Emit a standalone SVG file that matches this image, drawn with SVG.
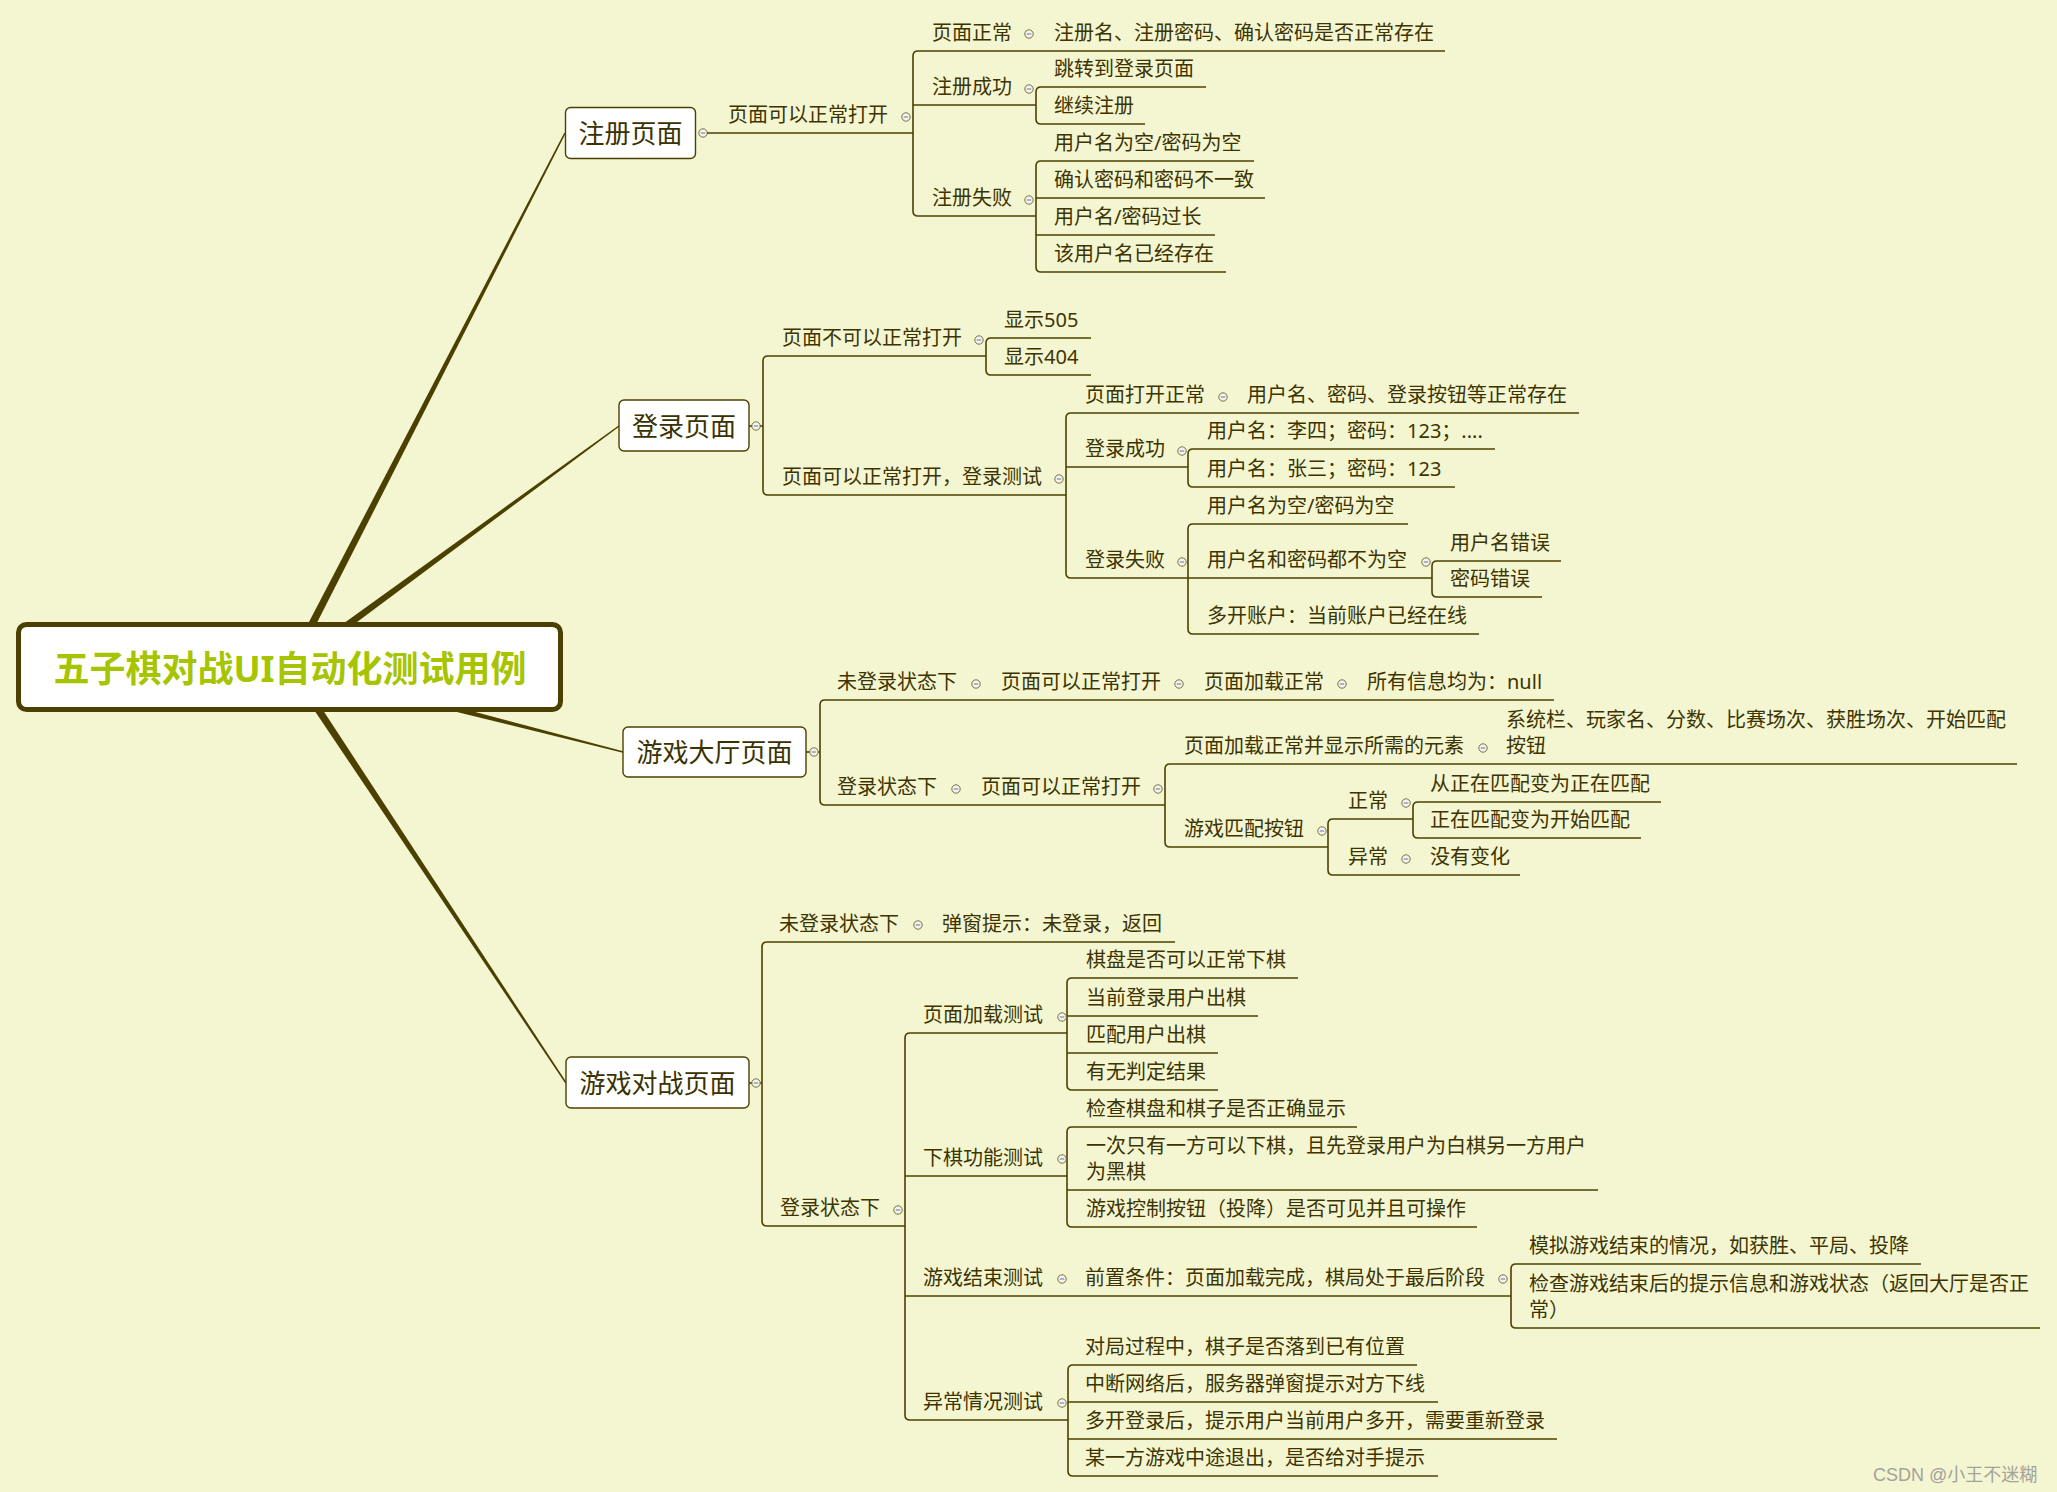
<svg xmlns="http://www.w3.org/2000/svg" xmlns:xlink="http://www.w3.org/1999/xlink" width="2057" height="1492" viewBox="0 0 2057 1492">
<style>
.t{font-family:"Noto Sans","Noto Sans CJK SC",sans-serif;font-size:20px;fill:#3d3400}
.mt{font-family:"Noto Sans","Noto Sans CJK SC",sans-serif;font-size:26px;fill:#3a3100;text-anchor:middle}
.ct{font-family:"Noto Sans","Noto Sans CJK SC",sans-serif;font-size:36px;font-weight:bold;fill:#a6c400;text-anchor:middle}
.ln{fill:none;stroke:#4b4000;stroke-width:1.6}
.box{fill:#ffffff;stroke:#4b4000;stroke-width:1.4}
.tp{fill:#4b4000}
.wm{font-family:"Liberation Sans","Noto Sans CJK SC",sans-serif;font-size:18px;fill:#a3a39a}
</style>
<defs>
<g id="cc"><circle r="4.2" fill="#f4f4ea" stroke="#7a7040" stroke-width="1"/><line x1="-2.2" y1="0" x2="2.2" y2="0" stroke="#7888b8" stroke-width="1.2"/></g>
</defs>
<rect x="0" y="0" width="2057" height="1492" fill="#f4f6d2"/>

<g id="connectors">
<polygon class="tp" points="293.6,668.8 565.7,133.3 564.3,132.7 286.4,665.2"/>
<polygon class="tp" points="292.4,670.2 619.4,426.6 618.6,425.4 287.6,663.8"/>
<polygon class="tp" points="289.0,670.9 622.8,752.7 623.2,751.3 291.0,663.1"/>
<polygon class="tp" points="286.7,669.2 565.4,1083.4 566.6,1082.6 293.3,664.8"/>
<path class="ln" d="M918 51 Q913 51 913 56 V211 Q913 216 918 216"/>
<path class="ln" d="M1041 87 Q1036 87 1036 92 V119 Q1036 124 1041 124"/>
<path class="ln" d="M1041 161 Q1036 161 1036 166 V267 Q1036 272 1041 272"/>
<path class="ln" d="M749 426 H763"/>
<path class="ln" d="M768 356 Q763 356 763 361 V490 Q763 495 768 495"/>
<path class="ln" d="M991 338 Q986 338 986 343 V370 Q986 375 991 375"/>
<path class="ln" d="M1071 413 Q1066 413 1066 418 V573 Q1066 578 1071 578"/>
<path class="ln" d="M1193 449 Q1188 449 1188 454 V482 Q1188 487 1193 487"/>
<path class="ln" d="M1193 524 Q1188 524 1188 529 V629 Q1188 634 1193 634"/>
<path class="ln" d="M1437 561 Q1432 561 1432 566 V592 Q1432 597 1437 597"/>
<path class="ln" d="M806 752 H820"/>
<path class="ln" d="M825 700 Q820 700 820 705 V800 Q820 805 825 805"/>
<path class="ln" d="M1170 764 Q1165 764 1165 769 V842 Q1165 847 1170 847"/>
<path class="ln" d="M1333 819 Q1328 819 1328 824 V870 Q1328 875 1333 875"/>
<path class="ln" d="M1418 802 Q1413 802 1413 807 V833 Q1413 838 1418 838"/>
<path class="ln" d="M749 1083 H762"/>
<path class="ln" d="M767 942 Q762 942 762 947 V1221 Q762 1226 767 1226"/>
<path class="ln" d="M910 1033 Q905 1033 905 1038 V1415 Q905 1420 910 1420"/>
<path class="ln" d="M1072 978 Q1067 978 1067 983 V1085 Q1067 1090 1072 1090"/>
<path class="ln" d="M1072 1127 Q1067 1127 1067 1132 V1222 Q1067 1227 1072 1227"/>
<path class="ln" d="M1516 1264 Q1511 1264 1511 1269 V1323 Q1511 1328 1516 1328"/>
<path class="ln" d="M1073 1365 Q1068 1365 1068 1370 V1471 Q1068 1476 1073 1476"/>
</g>

<g id="root">
<rect x="18.5" y="624.5" width="542" height="85" rx="8" fill="#ffffff" stroke="#4b4000" stroke-width="5"/>
<text class="ct" x="290" y="682">五子棋对战UI自动化测试用例</text>
</g>

<!-- 注册页面 -->
<g id="n-reg">
<rect class="box" x="565.5" y="107.5" width="130" height="51" rx="5"/>
<text class="mt" x="630.5" y="143">注册页面</text>
<use xlink:href="#cc" x="703" y="133"/>
</g>
<g id="n-reg-open">
<path class="ln" d="M707 133 H913"/>
<text class="t" x="728" y="122">页面可以正常打开</text>
<use xlink:href="#cc" x="906" y="117"/>
</g>
<g id="n-reg-normal">
<path class="ln" d="M918 51 H1445"/>
<text class="t" x="932" y="40">页面正常</text>
<use xlink:href="#cc" x="1029" y="34"/>
<text class="t" x="1054" y="40">注册名、注册密码、确认密码是否正常存在</text>
</g>
<g id="n-reg-ok">
<path class="ln" d="M913 105 H1036"/>
<text class="t" x="932" y="94">注册成功</text>
<use xlink:href="#cc" x="1029" y="89"/>
</g>
<g id="n-reg-ok-1"><path class="ln" d="M1041 87 H1206"/><text class="t" x="1054" y="76">跳转到登录页面</text></g>
<g id="n-reg-ok-2"><path class="ln" d="M1041 124 H1145"/><text class="t" x="1054" y="113">继续注册</text></g>
<g id="n-reg-fail">
<path class="ln" d="M918 216 H1036"/>
<text class="t" x="932" y="205">注册失败</text>
<use xlink:href="#cc" x="1029" y="200"/>
</g>
<g id="n-reg-fail-1"><path class="ln" d="M1041 161 H1254"/><text class="t" x="1054" y="150">用户名为空/密码为空</text></g>
<g id="n-reg-fail-2"><path class="ln" d="M1036 198 H1265"/><text class="t" x="1054" y="187">确认密码和密码不一致</text></g>
<g id="n-reg-fail-3"><path class="ln" d="M1036 235 H1215"/><text class="t" x="1054" y="224">用户名/密码过长</text></g>
<g id="n-reg-fail-4"><path class="ln" d="M1041 272 H1226"/><text class="t" x="1054" y="261">该用户名已经存在</text></g>

<!-- 登录页面 -->
<g id="n-login">
<rect class="box" x="619" y="400" width="130" height="51" rx="5"/>
<text class="mt" x="684" y="435.5">登录页面</text>
<use xlink:href="#cc" x="756" y="426"/>
</g>
<g id="n-login-no">
<path class="ln" d="M768 356 H986"/>
<text class="t" x="782" y="345">页面不可以正常打开</text>
<use xlink:href="#cc" x="979" y="340"/>
</g>
<g id="n-login-505"><path class="ln" d="M991 338 H1091"/><text class="t" x="1004" y="327">显示505</text></g>
<g id="n-login-404"><path class="ln" d="M991 375 H1091"/><text class="t" x="1004" y="364">显示404</text></g>
<g id="n-login-yes">
<path class="ln" d="M768 495 H1066"/>
<text class="t" x="782" y="484">页面可以正常打开，登录测试</text>
<use xlink:href="#cc" x="1059" y="479"/>
</g>
<g id="n-login-normal">
<path class="ln" d="M1071 413 H1579"/>
<text class="t" x="1085" y="402">页面打开正常</text>
<use xlink:href="#cc" x="1223" y="397"/>
<text class="t" x="1247" y="402">用户名、密码、登录按钮等正常存在</text>
</g>
<g id="n-login-ok">
<path class="ln" d="M1066 467 H1188"/>
<text class="t" x="1085" y="456">登录成功</text>
<use xlink:href="#cc" x="1182" y="451"/>
</g>
<g id="n-login-ok-1"><path class="ln" d="M1193 449 H1495"/><text class="t" x="1207" y="438">用户名：李四；密码：123；....</text></g>
<g id="n-login-ok-2"><path class="ln" d="M1193 487 H1455"/><text class="t" x="1207" y="476">用户名：张三；密码：123</text></g>
<g id="n-login-fail">
<path class="ln" d="M1071 578 H1188"/>
<text class="t" x="1085" y="567">登录失败</text>
<use xlink:href="#cc" x="1182" y="562"/>
</g>
<g id="n-login-fail-1"><path class="ln" d="M1193 524 H1408"/><text class="t" x="1207" y="513">用户名为空/密码为空</text></g>
<g id="n-login-fail-2">
<path class="ln" d="M1188 578 H1432"/>
<text class="t" x="1207" y="567">用户名和密码都不为空</text>
<use xlink:href="#cc" x="1426" y="562"/>
</g>
<g id="n-login-fail-2a"><path class="ln" d="M1437 561 H1561"/><text class="t" x="1450" y="550">用户名错误</text></g>
<g id="n-login-fail-2b"><path class="ln" d="M1437 597 H1542"/><text class="t" x="1450" y="586">密码错误</text></g>
<g id="n-login-fail-3"><path class="ln" d="M1193 634 H1479"/><text class="t" x="1207" y="623">多开账户：当前账户已经在线</text></g>

<!-- 游戏大厅页面 -->
<g id="n-hall">
<rect class="box" x="623" y="727" width="183" height="50" rx="5"/>
<text class="mt" x="714.5" y="762">游戏大厅页面</text>
<use xlink:href="#cc" x="814" y="752"/>
</g>
<g id="n-hall-nologin">
<path class="ln" d="M825 700 H1554"/>
<text class="t" x="837" y="689">未登录状态下</text>
<use xlink:href="#cc" x="976" y="684"/>
<text class="t" x="1001" y="689">页面可以正常打开</text>
<use xlink:href="#cc" x="1179" y="684"/>
<text class="t" x="1204" y="689">页面加载正常</text>
<use xlink:href="#cc" x="1342" y="684"/>
<text class="t" x="1367" y="689">所有信息均为：null</text>
</g>
<g id="n-hall-login">
<path class="ln" d="M825 805 H1165"/>
<text class="t" x="837" y="794">登录状态下</text>
<use xlink:href="#cc" x="956" y="789"/>
<text class="t" x="981" y="794">页面可以正常打开</text>
<use xlink:href="#cc" x="1158" y="789"/>
</g>
<g id="n-hall-elements">
<path class="ln" d="M1170 764 H2017"/>
<text class="t" x="1184" y="753">页面加载正常并显示所需的元素</text>
<use xlink:href="#cc" x="1483" y="748"/>
<text class="t" x="1506" y="727">系统栏、玩家名、分数、比赛场次、获胜场次、开始匹配</text>
<text class="t" x="1506" y="753">按钮</text>
</g>
<g id="n-hall-match">
<path class="ln" d="M1170 847 H1328"/>
<text class="t" x="1184" y="836">游戏匹配按钮</text>
<use xlink:href="#cc" x="1322" y="831"/>
</g>
<g id="n-hall-match-ok">
<path class="ln" d="M1333 819 H1413"/>
<text class="t" x="1348" y="808">正常</text>
<use xlink:href="#cc" x="1406" y="803"/>
</g>
<g id="n-hall-match-ok-1"><path class="ln" d="M1418 802 H1661"/><text class="t" x="1430" y="791">从正在匹配变为正在匹配</text></g>
<g id="n-hall-match-ok-2"><path class="ln" d="M1418 838 H1641"/><text class="t" x="1430" y="827">正在匹配变为开始匹配</text></g>
<g id="n-hall-match-err">
<path class="ln" d="M1333 875 H1520"/>
<text class="t" x="1348" y="864">异常</text>
<use xlink:href="#cc" x="1406" y="859"/>
<text class="t" x="1430" y="864">没有变化</text>
</g>

<!-- 游戏对战页面 -->
<g id="n-battle">
<rect class="box" x="566" y="1057" width="183" height="51" rx="5"/>
<text class="mt" x="657.5" y="1093">游戏对战页面</text>
<use xlink:href="#cc" x="756" y="1083"/>
</g>
<g id="n-battle-nologin">
<path class="ln" d="M767 942 H1175"/>
<text class="t" x="779" y="931">未登录状态下</text>
<use xlink:href="#cc" x="918" y="925"/>
<text class="t" x="942" y="931">弹窗提示：未登录，返回</text>
</g>
<g id="n-battle-login">
<path class="ln" d="M767 1226 H905"/>
<text class="t" x="780" y="1215">登录状态下</text>
<use xlink:href="#cc" x="898" y="1210"/>
</g>
<g id="n-battle-load">
<path class="ln" d="M910 1033 H1067"/>
<text class="t" x="923" y="1022">页面加载测试</text>
<use xlink:href="#cc" x="1062" y="1017"/>
</g>
<g id="n-battle-load-1"><path class="ln" d="M1072 978 H1298"/><text class="t" x="1086" y="967">棋盘是否可以正常下棋</text></g>
<g id="n-battle-load-2"><path class="ln" d="M1067 1016 H1258"/><text class="t" x="1086" y="1005">当前登录用户出棋</text></g>
<g id="n-battle-load-3"><path class="ln" d="M1067 1053 H1218"/><text class="t" x="1086" y="1042">匹配用户出棋</text></g>
<g id="n-battle-load-4"><path class="ln" d="M1072 1090 H1218"/><text class="t" x="1086" y="1079">有无判定结果</text></g>
<g id="n-battle-play">
<path class="ln" d="M905 1176 H1067"/>
<text class="t" x="923" y="1165">下棋功能测试</text>
<use xlink:href="#cc" x="1062" y="1159"/>
</g>
<g id="n-battle-play-1"><path class="ln" d="M1072 1127 H1357"/><text class="t" x="1086" y="1116">检查棋盘和棋子是否正确显示</text></g>
<g id="n-battle-play-2"><path class="ln" d="M1067 1190 H1598"/><text class="t" x="1086" y="1153">一次只有一方可以下棋，且先登录用户为白棋另一方用户</text><text class="t" x="1086" y="1179">为黑棋</text></g>
<g id="n-battle-play-3"><path class="ln" d="M1072 1227 H1477"/><text class="t" x="1086" y="1216">游戏控制按钮（投降）是否可见并且可操作</text></g>
<g id="n-battle-end">
<path class="ln" d="M905 1296 H1511"/>
<text class="t" x="923" y="1285">游戏结束测试</text>
<use xlink:href="#cc" x="1062" y="1279"/>
<text class="t" x="1085" y="1285">前置条件：页面加载完成，棋局处于最后阶段</text>
<use xlink:href="#cc" x="1503" y="1279"/>
</g>
<g id="n-battle-end-1"><path class="ln" d="M1516 1264 H1921"/><text class="t" x="1529" y="1253">模拟游戏结束的情况，如获胜、平局、投降</text></g>
<g id="n-battle-end-2"><path class="ln" d="M1516 1328 H2040"/><text class="t" x="1529" y="1291">检查游戏结束后的提示信息和游戏状态（返回大厅是否正</text><text class="t" x="1529" y="1317">常）</text></g>
<g id="n-battle-err">
<path class="ln" d="M910 1420 H1068"/>
<text class="t" x="923" y="1409">异常情况测试</text>
<use xlink:href="#cc" x="1062" y="1403"/>
</g>
<g id="n-battle-err-1"><path class="ln" d="M1073 1365 H1417"/><text class="t" x="1085" y="1354">对局过程中，棋子是否落到已有位置</text></g>
<g id="n-battle-err-2"><path class="ln" d="M1068 1402 H1438"/><text class="t" x="1085" y="1391">中断网络后，服务器弹窗提示对方下线</text></g>
<g id="n-battle-err-3"><path class="ln" d="M1068 1439 H1557"/><text class="t" x="1085" y="1428">多开登录后，提示用户当前用户多开，需要重新登录</text></g>
<g id="n-battle-err-4"><path class="ln" d="M1073 1476 H1438"/><text class="t" x="1085" y="1465">某一方游戏中途退出，是否给对手提示</text></g>

<text class="wm" x="1873" y="1481">CSDN @小王不迷糊</text>
</svg>
